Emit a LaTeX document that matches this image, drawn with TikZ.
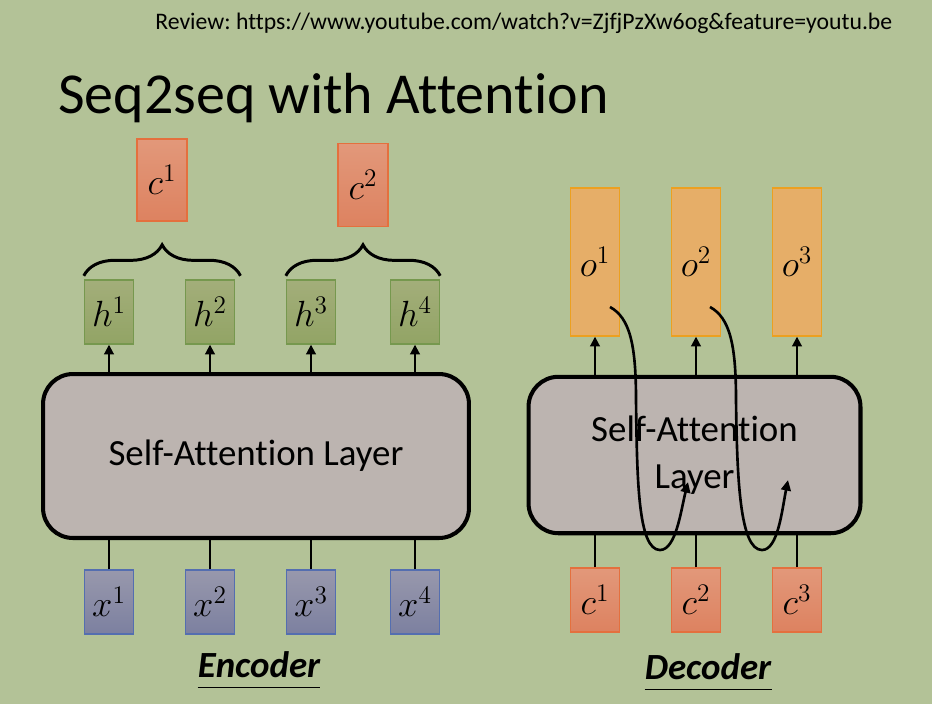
\documentclass[tikz,border=0pt]{standalone}
\usepackage{fontspec}
\setmainfont[Ligatures=NoCommon,RawFeature={-liga;-clig;-calt}]{Carlito}
\usetikzlibrary{arrows.meta,decorations.pathreplacing}

\definecolor{bg}{RGB}{179,194,151}
\definecolor{ctop}{RGB}{226,152,122}
\definecolor{cbot}{RGB}{221,130,96}
\definecolor{cline}{RGB}{228,112,62}
\definecolor{htop}{RGB}{163,174,122}
\definecolor{hbot}{RGB}{146,164,101}
\definecolor{hline}{RGB}{118,152,78}
\definecolor{xtop}{RGB}{152,152,172}
\definecolor{xbot}{RGB}{124,128,160}
\definecolor{xline}{RGB}{84,110,176}
\definecolor{ofill}{RGB}{230,174,104}
\definecolor{oline}{RGB}{236,160,32}
\definecolor{layerfill}{RGB}{188,180,176}

\tikzset{
  box/.style={draw, line width=0.8pt, inner sep=0pt, font=\fontsize{22}{26}\selectfont},
  cbox/.style={box, draw=cline, top color=ctop, bottom color=cbot},
  hbox/.style={box, draw=hline, top color=htop, bottom color=hbot,
    minimum width=0.98cm, minimum height=1.28cm},
  xbox/.style={box, draw=xline, top color=xtop, bottom color=xbot,
    minimum width=0.98cm, minimum height=1.28cm},
  obox/.style={box, draw=oline, fill=ofill, minimum width=0.97cm, minimum height=2.96cm},
  layer/.style={draw, line width=2.3pt, rounded corners=0.6cm, fill=layerfill,
    font=\fontsize{21}{27}\selectfont, align=center},
  arr/.style={line width=1.1pt, -{Triangle[length=5.5pt,width=5.5pt]}},
  link/.style={line width=1.1pt},
  loopline/.style={line width=1.5pt, -{Triangle[length=6pt,width=5.5pt]}},
  brc/.style={decorate, decoration={brace, amplitude=0.62cm}, line width=1.7pt},
  lbl/.style={inner sep=0pt, font=\fontsize{21}{25}\selectfont\bfseries\itshape}
}

\begin{document}
\begin{tikzpicture}[x=0.02cm, y=-0.02cm]
  \fill[bg] (0,0) rectangle (932,704);

  \node[anchor=base west, inner sep=0pt, font=\fontsize{13.5}{16}\selectfont] (review)
    at (155,29) {Review:\ https://www.youtube.com/watch?v=ZjfjPzXw6og\&feature=youtu.be};
  \node[anchor=base west, inner sep=0pt, font=\fontsize{33}{39}\selectfont] (title)
    at (58,113) {Seq2seq with Attention};

  % encoder
  \node[layer, minimum width=8.52cm, minimum height=3.28cm] (enc) at (256,456)
    {Self-Attention Layer};
  \foreach \i/\px in {1/109,2/210,3/311,4/415}{
    \node[hbox] (h\i) at (\px,312) {$h^{\i}$};
    \node[xbox] (x\i) at (\px,602) {$x^{\i}$};
    \draw[arr] (enc.north -| h\i) -- (h\i.south);
    \draw[link] (x\i.north) -- (enc.south -| x\i);
  }
  \node[cbox, minimum width=1cm, minimum height=1.64cm] (c1) at (162,180) {$c^1$};
  \node[cbox, minimum width=1cm, minimum height=1.66cm] (c2) at (363,185) {$c^2$};
  \draw[brc] ([yshift=2pt]h1.north west) -- ([xshift=3pt,yshift=2pt]h2.north east);
  \draw[brc] ([yshift=2pt]h3.north west) -- ([yshift=2pt]h4.north east);
  \node[lbl, anchor=base] (enclbl) at (259,677) {Encoder};
  \draw[line width=0.6pt] ([yshift=-5.7pt]enclbl.base west) -- ([yshift=-5.7pt]enclbl.base east);

  % decoder
  \node[layer, minimum width=6.64cm, minimum height=3.13cm] (dec) at (694.5,455)
    {Self-Attention\\Layer};
  \foreach \i/\px in {1/595,2/696,3/797}{
    \node[obox] (o\i) at (\px,262) {$o^{\i}$};
    \node[cbox, minimum width=0.98cm, minimum height=1.28cm] (dc\i) at (\px,600) {$c^{\i}$};
    \draw[arr] (dec.north -| o\i) -- (o\i.south);
    \draw[link] (dc\i.north) -- (dec.south -| dc\i);
  }
  \coordinate (s1) at (610,307);
  \coordinate (e1) at (688,482);
  \coordinate (s2) at (710,307);
  \coordinate (e2) at (788,480);
  \draw[loopline] (s1) .. controls (630,318) and (636,345) .. (636,400)
    .. controls (637,480) and (638,550) .. (660,550)
    .. controls (676,550) and (681,510) .. (e1);
  \draw[loopline] (s2) .. controls (730,318) and (736,345) .. (736,400)
    .. controls (737,480) and (740,550) .. (762,550)
    .. controls (778,550) and (782,510) .. (e2);
  \node[lbl, anchor=base] (declbl) at (708,679) {Decoder};
  \draw[line width=0.6pt] ([yshift=-5.7pt]declbl.base west) -- ([yshift=-5.7pt]declbl.base east);
\end{tikzpicture}
\end{document}
